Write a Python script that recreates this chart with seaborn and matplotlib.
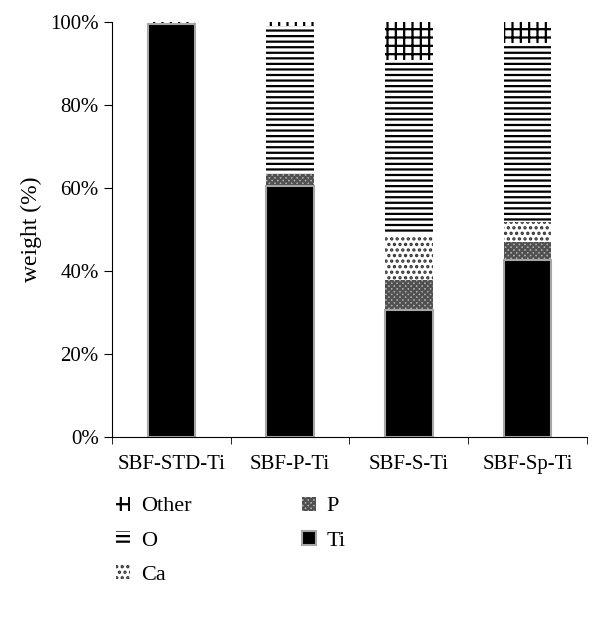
import numpy as np
import pandas as pd
import seaborn as sns
import matplotlib.pyplot as plt
from matplotlib.patches import Patch
from matplotlib.ticker import PercentFormatter, FixedLocator

sns.set_style('ticks')
plt.rcParams['font.family'] = ['Liberation Serif', 'DejaVu Serif']
plt.rcParams['hatch.linewidth'] = 1.6
plt.rcParams['xtick.labelsize'] = 15
plt.rcParams['ytick.labelsize'] = 15
plt.rcParams['text.color'] = 'black'
plt.rcParams['axes.labelcolor'] = 'black'
plt.rcParams['xtick.color'] = 'black'
plt.rcParams['ytick.color'] = 'black'

samples = ['SBF-STD-Ti', 'SBF-P-Ti', 'SBF-S-Ti', 'SBF-Sp-Ti']
ti = [99.5, 60.5, 30.6, 42.7]
p = [0.0, 2.9, 7.2, 4.3]
ca = [0.0, 0.0, 10.9, 4.8]
o = [0.0, 35.6, 42.1, 43.1]
other = [0.5, 1.0, 9.2, 5.1]

df = pd.DataFrame({'sample': samples, 'Ti': ti, 'P': p, 'Ca': ca, 'O': o, 'Other': other})
# cumulative heights, drawn tallest first so each layer sits on top of the next
order = ['Ti', 'P', 'Ca', 'O', 'Other']
cum = df[order].cumsum(axis=1)
cum['sample'] = df['sample']

styles = {
    'Other': dict(hatch='++', facecolor='white', edgecolor='black', linewidth=0),
    'O': dict(hatch='---', facecolor='white', edgecolor='black', linewidth=0),
    'Ca': dict(hatch='...', facecolor='white', edgecolor='#333333', linewidth=0),
    'P': dict(hatch='xxxxxx', facecolor='#b0b0b0', edgecolor='#505050', linewidth=0),
    'Ti': dict(hatch=None, facecolor='black', edgecolor='#a6a6a6', linewidth=1.5),
}

fig, ax = plt.subplots(figsize=(6.02, 6.27), dpi=100)
for col in order[::-1]:
    sns.barplot(data=cum, x='sample', y=col, ax=ax, width=0.4, **styles[col])

ax.set_ylim(0, 100)
ax.set_xlim(-0.5, 3.5)
ax.yaxis.set_major_formatter(PercentFormatter(decimals=0))
ax.set_yticks([0, 20, 40, 60, 80, 100])
ax.set_ylabel('weight (%)', size=17, labelpad=6)
ax.set_xlabel('')
ax.tick_params(axis='x', length=0, pad=13)
ax.xaxis.set_minor_locator(FixedLocator([-0.5, 0.5, 1.5, 2.5, 3.5]))
ax.tick_params(axis='x', which='minor', length=5, color='black')
ax.tick_params(axis='y', length=6, color='black')
for s in ['left', 'bottom']:
    ax.spines[s].set_color('black')
sns.despine(ax=ax)

handles = [
    Patch(label='Other', **styles['Other']),
    Patch(label='O', **styles['O']),
    Patch(label='Ca', **styles['Ca']),
    Patch(label='P', **styles['P']),
    Patch(label='Ti', **styles['Ti']),
]
fig.legend(handles=handles, ncol=2, frameon=False, fontsize=16,
           loc='upper left', bbox_to_anchor=(0.16, 0.24),
           handlelength=0.6, handleheight=0.6, labelspacing=0.65,
           columnspacing=5.0, handletextpad=0.5)

fig.subplots_adjust(left=0.186, right=0.975, top=0.965, bottom=0.303)
fig.savefig('out.png', dpi=100)
